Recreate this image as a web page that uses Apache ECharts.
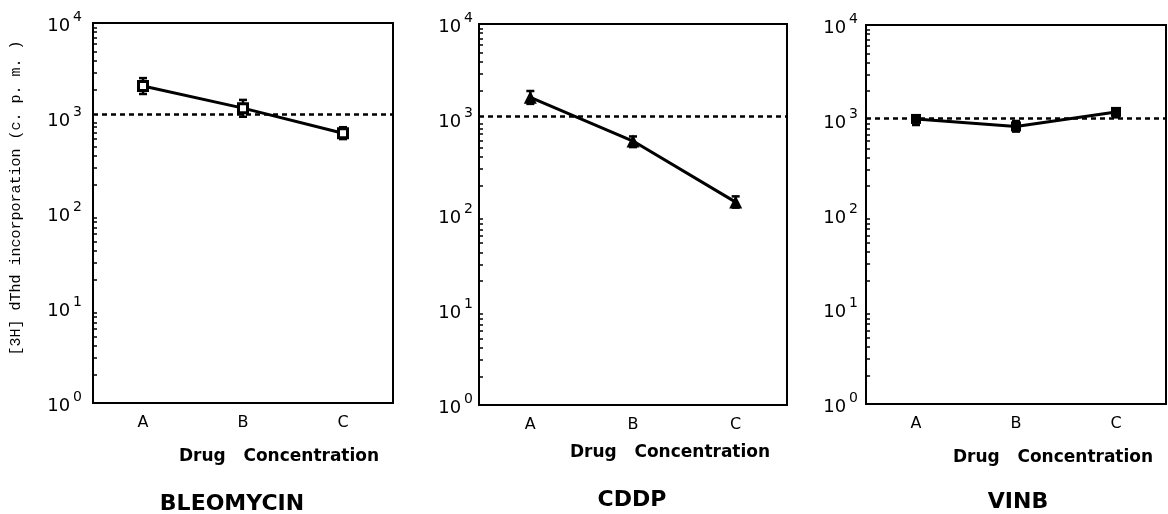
<!DOCTYPE html>
<html>
<head>
<meta charset="utf-8">
<script src="https://cdn.jsdelivr.net/npm/echarts@6/dist/echarts.min.js"></script>
<style>
html, body { margin: 0; padding: 0; background: #fff; }
#chart { width: 1168px; height: 514px; }
</style>
</head>
<body>
<div id="chart"></div>
<script>
const categories = ['A', 'B', 'C']
const drugNames = ['BLEOMYCIN', 'CDDP', 'VINB']
const xTitle = 'Drug   Concentration'
const yTitle = '[3H] dThd incorporation (c. p. m. )'

const bleoMean = [2170, 1270, 690]
const bleoLow = [1790, 1030, 600]
const bleoHigh = [2630, 1550, 800]
const cddpMean = [1700, 590, 135]
const cddpLow = [1450, 510, 118]
const cddpHigh = [1980, 660, 155]
const vinbMean = [1020, 850, 1210]
const vinbLow = [880, 750, 1060]
const vinbHigh = [1110, 970, 1320]
// dotted control level
const controlLevel = [1100, 1080, 1030]

const minorTicks = [2, 3, 4, 5, 6, 7, 8, 9, 20, 30, 40, 50, 60, 70, 80, 90,
    200, 300, 400, 500, 600, 700, 800, 900, 2000, 3000, 4000, 5000, 6000, 7000, 8000, 9000]

const FONT = 'DejaVu Sans'
const black = '#000'

const panels = [
    { mean: bleoMean, low: bleoLow, high: bleoHigh, symbol: 'rect', size: 9, fill: '#fff', border: 3,
      grid: { left: 93, top: 23, width: 300, height: 380 }, labelMargin: 11, dc: [279, 448], title: [232, 493] },
    { mean: cddpMean, low: cddpLow, high: cddpHigh, symbol: 'triangle', size: 13, fill: black, border: 0,
      grid: { left: 479, top: 24, width: 308, height: 381 }, labelMargin: 6, dc: [670, 444], title: [632, 489] },
    { mean: vinbMean, low: vinbLow, high: vinbHigh, symbol: 'rect', size: 10, fill: black, border: 0,
      grid: { left: 866, top: 25, width: 300, height: 379 }, labelMargin: 8, dc: [1053, 449], title: [1018, 491] }
]

const grids = []
const xAxes = []
const yAxes = []
const series = []
const titles = []

panels.forEach((p, i) => {
    grids.push(Object.assign({ show: true, borderColor: black, borderWidth: 2, outerBoundsMode: 'none', containLabel: false }, p.grid))

    xAxes.push({
        gridIndex: i,
        type: 'category',
        data: categories,
        boundaryGap: true,
        axisLine: { lineStyle: { color: black, width: 2 } },
        axisTick: { alignWithLabel: true, length: 5, lineStyle: { color: black, width: 2 } },
        axisLabel: { margin: 12, fontFamily: FONT, fontSize: 16, color: black }
    })

    yAxes.push({
        gridIndex: i,
        type: 'log',
        logBase: 10,
        min: 1,
        max: 10000,
        name: i === 0 ? yTitle : '',
        nameLocation: 'middle',
        nameGap: 69,
        nameRotate: 90,
        nameTextStyle: { fontFamily: 'Liberation Mono', fontSize: 15, color: black, padding: [0, 0, 0, 30] },
        axisLine: { lineStyle: { color: black, width: 2 } },
        axisTick: { length: 5, lineStyle: { color: black, width: 2 } },
        splitLine: { show: false },
        axisLabel: {
            margin: p.labelMargin,
            formatter: v => '{b|10}{s|' + Math.round(Math.log10(v)) + '}',
            rich: {
                b: { fontFamily: FONT, fontSize: 18, color: black, lineHeight: 25, verticalAlign: 'bottom' },
                s: { fontFamily: FONT, fontSize: 14, color: black, lineHeight: 14, verticalAlign: 'top', padding: [0, 0, 0, 3] }
            }
        }
    })
    // minor log ticks, pointing into the plot from the left edge
    yAxes.push({
        gridIndex: i,
        type: 'value',
        min: 0,
        max: 4,
        position: 'right',
        offset: -p.grid.width,
        axisLine: { show: false },
        axisTick: { show: true, inside: false, length: 4, customValues: minorTicks.map(Math.log10),
            lineStyle: { color: black, width: 1.5 } },
        axisLabel: { show: false },
        splitLine: { show: false }
    })

    series.push({
        type: 'custom',
        xAxisIndex: i,
        yAxisIndex: i * 2,
        z: 3,
        silent: true,
        data: categories.map((c, k) => [k, p.low[k], p.high[k]]),
        renderItem: (params, api) => {
            const top = api.coord([api.value(0), api.value(2)])
            const bottom = api.coord([api.value(0), api.value(1)])
            const w = 4
            const style = { stroke: black, lineWidth: 2.5 }
            return {
                type: 'group',
                children: [
                    { type: 'line', shape: { x1: top[0], y1: top[1], x2: bottom[0], y2: bottom[1] }, style },
                    { type: 'line', shape: { x1: top[0] - w, y1: top[1], x2: top[0] + w, y2: top[1] }, style },
                    { type: 'line', shape: { x1: bottom[0] - w, y1: bottom[1], x2: bottom[0] + w, y2: bottom[1] }, style }
                ]
            }
        }
    })

    series.push({
        type: 'line',
        xAxisIndex: i,
        yAxisIndex: i * 2,
        z: 4,
        data: p.mean,
        symbol: p.symbol,
        symbolSize: p.size,
        showAllSymbol: true,
        lineStyle: { color: black, width: 3 },
        itemStyle: { color: p.fill, borderColor: black, borderWidth: p.border },
        markLine: {
            silent: true,
            symbol: 'none',
            label: { show: false },
            lineStyle: { color: black, width: 2.5, type: [5, 4] },
            data: [{ yAxis: controlLevel[i] }]
        }
    })

    titles.push({
        text: xTitle,
        left: p.dc[0],
        top: p.dc[1],
        textAlign: 'center',
        padding: 0,
        textStyle: { fontFamily: FONT, fontSize: 17, fontWeight: 'bold', color: black }
    })
    titles.push({
        text: drugNames[i],
        left: p.title[0],
        top: p.title[1],
        textAlign: 'center',
        padding: 0,
        textStyle: { fontFamily: FONT, fontSize: 22, fontWeight: 'bold', color: black }
    })
})

// VINB panel also marks the category boundaries
xAxes.push({
    gridIndex: 2,
    type: 'category',
    data: categories,
    position: 'top',
    offset: -panels[2].grid.height,
    axisLine: { show: false },
    axisTick: { inside: true, alignWithLabel: false, length: 5, lineStyle: { color: black, width: 2 } },
    axisLabel: { show: false }
})

const chart = echarts.init(document.getElementById('chart'))
chart.setOption({
    animation: false,
    backgroundColor: '#fff',
    title: titles,
    grid: grids,
    xAxis: xAxes,
    yAxis: yAxes,
    series: series
})
</script>
</body>
</html>
